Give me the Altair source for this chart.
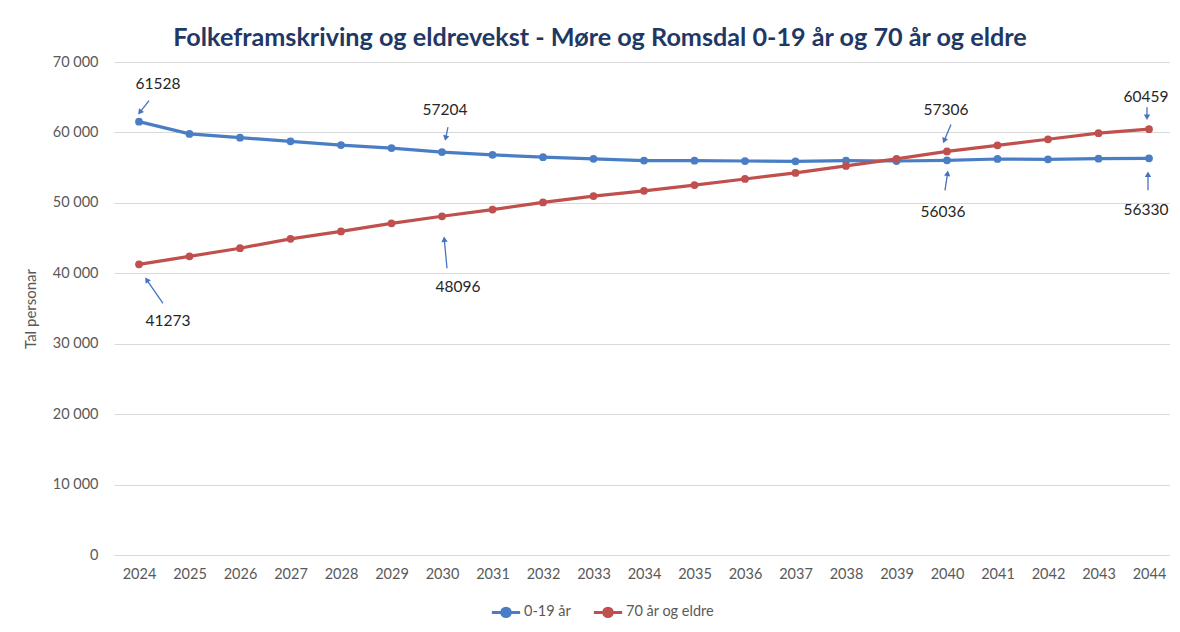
import math
import altair as alt
import pandas as pd

# ---- data ----
years = list(range(2024, 2045))
young = [61528, 59790, 59260, 58730, 58210, 57780, 57204, 56820, 56490, 56250, 56010,
         55990, 55940, 55890, 55990, 55940, 56036, 56230, 56180, 56280, 56330]
old = [41273, 42410, 43560, 44890, 45950, 47090, 48096, 49050, 50060, 50960, 51710,
       52530, 53390, 54250, 55250, 56250, 57306, 58170, 59030, 59890, 60459]
series_names = ["0-19 år", "70 år og eldre"]
y_ticks = [0, 10000, 20000, 30000, 40000, 50000, 60000, 70000]
title_text = "Folkeframskriving og eldrevekst - Møre og Romsdal 0-19 år og 70 år og eldre"
y_title = "Tal personar"

# annotated points: (series index, year)
annot_points = [(0, 2024), (0, 2030), (1, 2024), (1, 2030), (1, 2040), (0, 2040), (1, 2044), (0, 2044)]
# style: pixel offsets of text centre, arrow tail, arrow head relative to the point
annot_style = [
    ((19, -38), (10, -21), (-1, -7)),
    ((3, -42), (6, -25), (3, -11)),
    ((29, 57), (24, 39), (6, 13)),
    ((16, 71), (5, 52), (2, 20)),
    ((-1, -41), (4, -27), (-4, -8)),
    ((-4, 52), (-2, 30), (1, 10)),
    ((-3, -32), (-2, -22), (-2, -9)),
    ((-3, 52), (-1, 32), (-1, 13)),
]

BLUE = "#4A7EC4"
RED = "#C0504D"
ARROW = "#4472C4"
GRAY = "#595959"
FONT = "Lato"
W, H = 1056, 493

rows = []
for name, vals in zip(series_names, [young, old]):
    for yr, v in zip(years, vals):
        rows.append({"year": yr, "value": v, "series": name})
df = pd.DataFrame(rows)

xenc = alt.X("year:Q", scale=alt.Scale(domain=[2023.505, 2044.416], nice=False, zero=False),
             axis=alt.Axis(values=years, format="d", grid=False, domain=False, ticks=False,
                           labelPadding=12, labelFontSize=14.5, labelColor=GRAY, labelFont=FONT,
                           title=None))
yenc = alt.Y("value:Q", scale=alt.Scale(domain=[0, 70000], nice=False),
             axis=alt.Axis(values=y_ticks, grid=True, gridColor="#D9D9D9", domain=False,
                           ticks=False, labelPadding=16, labelFontSize=14.5, labelColor=GRAY,
                           labelFont=FONT, title=y_title, titleColor=GRAY, titleFont=FONT,
                           titleFontSize=15, titleFontWeight="normal", titlePadding=14,
                           labelExpr="replace(format(datum.value, ','), ',', ' ')"))
color_scale = alt.Scale(domain=series_names, range=[BLUE, RED])

legend_path = "M-1,0H1M-0.3,0A0.3,0.3,0,1,1,0.3,0A0.3,0.3,0,1,1,-0.3,0Z"
legend = alt.Legend(title=None, orient="none", direction="horizontal",
                    legendX=376, legendY=534, symbolType=legend_path,
                    symbolSize=800, symbolStrokeWidth=3,
                    labelFontSize=14.5, labelColor=GRAY, labelFont=FONT,
                    labelOffset=2, columnPadding=16)
line = alt.Chart(df).mark_line(strokeWidth=3.2).encode(
    x=xenc, y=yenc,
    color=alt.Color("series:N", scale=color_scale, legend=legend),
)
points = alt.Chart(df).mark_point(filled=True, size=60, opacity=1).encode(
    x="year:Q", y="value:Q",
    color=alt.Color("series:N", scale=color_scale, legend=legend),
)

layers = [line, points]
for (si, yr), (t, a, b) in zip(annot_points, annot_style):
    v = [young, old][si][years.index(yr)]
    d = pd.DataFrame({"year": [yr], "value": [v], "label": [str(v)]})
    base = alt.Chart(d)
    vx, vy = b[0] - a[0], b[1] - a[1]
    ln = math.hypot(vx, vy)
    ux, uy = vx / ln, vy / ln
    cx, cy = b[0] - 3 * ux, b[1] - 3 * uy
    ang = math.degrees(math.atan2(vx, -vy)) % 360
    layers.append(base.mark_text(dx=t[0], dy=t[1], fontSize=15.5, color="#262626", font=FONT)
                  .encode(x="year:Q", y="value:Q", text="label:N"))
    layers.append(base.mark_rule(color=ARROW, strokeWidth=1.3,
                                 xOffset=a[0], yOffset=a[1], x2Offset=cx, y2Offset=cy)
                  .encode(x="year:Q", y="value:Q", x2="year:Q", y2="value:Q"))
    layers.append(base.mark_point(shape="triangle-up", filled=True, size=40, opacity=1,
                                  color=ARROW, angle=ang, xOffset=cx, yOffset=cy)
                  .encode(x="year:Q", y="value:Q"))

chart = alt.layer(*layers).properties(
    width=W, height=H,
    autosize=alt.AutoSizeParams(type="none"),
    padding={"left": 106, "top": 54, "right": 0, "bottom": 69},
    title=alt.Title(title_text, fontSize=25.2, font=FONT, fontWeight="bold", color="#1F3864",
                    anchor="middle", frame="group", dx=-42, offset=3),
).configure_view(stroke=None)

chart.save("out.html", embed_options={"renderer": "svg", "actions": False})
